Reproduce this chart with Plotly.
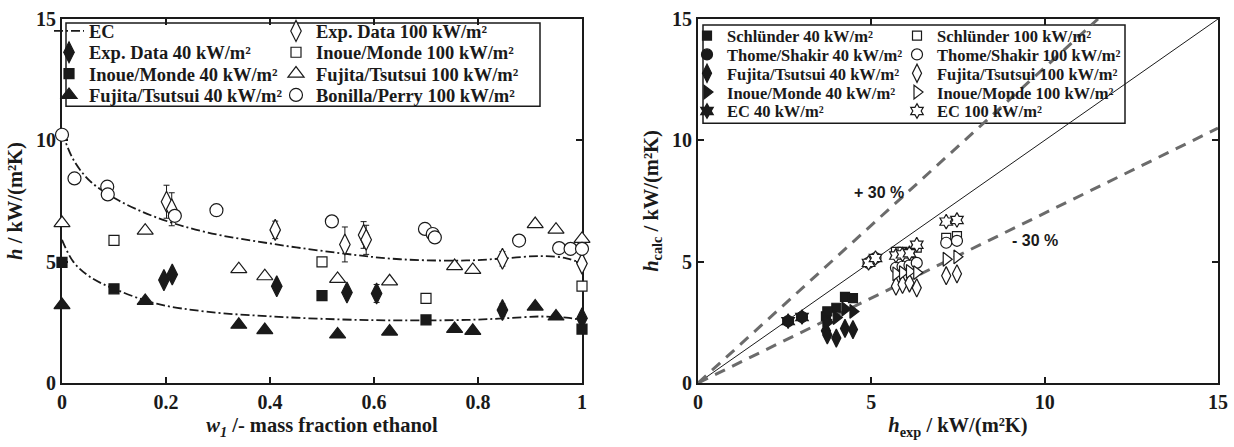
import plotly.graph_objects as go

# ---------------- left panel: h vs. mass fraction ethanol ----------------
ec_w = [0, 0.022, 0.054, 0.105, 0.182, 0.278, 0.406, 0.535, 0.65, 0.778, 0.847, 0.919, 0.97, 1.0]
ec_h100 = [10.35, 9.2, 8.32, 7.57, 6.82, 6.21, 5.73, 5.35, 5.1, 5.05, 5.13, 5.23, 5.14, 4.92]
ec_h40 = [5.9, 4.99, 4.37, 3.84, 3.27, 2.94, 2.74, 2.62, 2.58, 2.6, 2.66, 2.74, 2.69, 2.6]

exp40_w = [0.196, 0.212, 0.413, 0.548, 0.605, 0.847, 1.0]
exp40_h = [4.24, 4.47, 3.99, 3.73, 3.69, 3.01, 2.67]
exp40_err = [0.2, 0.15, 0.15, 0.12, 0.37, 0.25, 0.12]

exp100_w = [0.201, 0.211, 0.41, 0.544, 0.58, 0.585, 0.847, 1.0]
exp100_h = [7.47, 7.16, 6.31, 5.71, 6.1, 5.9, 5.12, 4.92]
exp100_err = [0.68, 0.68, 0.36, 0.72, 0.55, 0.6, 0.3, 0.1]

inoue40_w = [0, 0.1, 0.5, 0.7, 1.0]
inoue40_h = [4.97, 3.88, 3.6, 2.6, 2.22]
inoue100_w = [0.1, 0.5, 0.7, 1.0]
inoue100_h = [5.88, 4.99, 3.49, 3.99]

fujita40_w = [0, 0.16, 0.34, 0.39, 0.53, 0.63, 0.755, 0.79, 0.91, 0.95]
fujita40_h = [3.21, 3.38, 2.4, 2.18, 2.0, 2.12, 2.23, 2.15, 3.15, 2.74]
fujita100_w = [0, 0.16, 0.34, 0.39, 0.53, 0.63, 0.755, 0.79, 0.91, 0.95, 1.0]
fujita100_h = [6.59, 6.28, 4.69, 4.4, 4.29, 4.19, 4.82, 4.66, 6.55, 6.32, 5.94]

bonilla100_w = [0, 0.024, 0.087, 0.088, 0.217, 0.297, 0.519, 0.698, 0.713, 0.717, 0.879, 0.956, 0.978, 1.0]
bonilla100_h = [10.23, 8.43, 8.09, 7.77, 6.89, 7.12, 6.66, 6.35, 6.14, 6.0, 5.87, 5.56, 5.53, 5.53]

w_ticks = [0, 0.2, 0.4, 0.6, 0.8, 1]
w_tick_labels = ["0", "0.2", "0.4", "0.6", "0.8", "1"]
h_ticks = [0, 5, 10, 15]
h_tick_labels = ["0", "5", "10", "15"]

# ---------------- right panel: calculated vs. experimental h ----------------
schl40_exp = [3.69, 3.73, 3.99, 4.24, 4.47]
schl40_calc = [2.75, 2.95, 3.1, 3.55, 3.5]
schl100_exp = [5.71, 5.9, 6.1, 6.31, 7.16, 7.47]
schl100_calc = [5.4, 5.4, 5.35, 5.58, 5.98, 6.05]

thome40_exp = [2.6, 3.0]
thome40_calc = [2.55, 2.72]
thome100_exp = [4.92, 5.12, 5.71, 5.9, 6.1, 6.31, 7.16, 7.47]
thome100_calc = [4.95, 5.15, 4.75, 4.8, 4.85, 4.95, 5.78, 5.86]

fuj40_exp = [3.69, 3.73, 3.99, 4.24, 4.47]
fuj40_calc = [2.15, 1.98, 1.85, 2.25, 2.2]
fuj100_exp = [5.71, 5.9, 6.1, 6.31, 7.16, 7.47]
fuj100_calc = [3.99, 4.06, 4.12, 3.92, 4.42, 4.5]

ino40_exp = [3.69, 3.73, 3.99, 4.24, 4.47]
ino40_calc = [2.6, 2.5, 2.7, 3.05, 2.95]
ino100_exp = [5.71, 5.9, 6.1, 6.31, 7.16, 7.47]
ino100_calc = [4.5, 4.55, 4.6, 4.55, 5.1, 5.2]

ec40_exp = [2.6, 3.0]
ec40_calc = [2.55, 2.72]
ec100_exp = [4.92, 5.12, 5.71, 5.9, 6.1, 6.31, 7.16, 7.47]
ec100_calc = [4.95, 5.15, 5.25, 5.3, 5.35, 5.7, 6.65, 6.72]

parity_max = 15
deviation = 0.30

# ---------------- geometry helpers (pixel -> paper) ----------------
W, H = 1234, 447
ML, MR, MT, MB = 62, 16, 16, 64
PW, PH = W - ML - MR, H - MT - MB


def px(x):
    return (x - ML) / PW


def py(y):
    return (H - MB - y) / PH


def bold(labels):
    return [f"<b>{t}</b>" for t in labels]


SERIF = "Liberation Serif"
SANS = "Liberation Sans"
INK = "#1a1a1a"

fig = go.Figure()

legend_layout = {}
legend_count = [0]


def legend_slot(text_x, row_y, size):
    legend_count[0] += 1
    name = "legend" if legend_count[0] == 1 else f"legend{legend_count[0]}"
    legend_layout[name] = dict(
        x=px(text_x - 40), y=py(row_y), xanchor="left", yanchor="middle",
        bgcolor="rgba(0,0,0,0)", borderwidth=0,
        font=dict(family=SERIF, size=size, color=INK, weight=700),
        itemwidth=30,
    )
    return name


def marker(symbol, filled, size):
    return dict(symbol=symbol, size=size,
                color=INK if filled else "white",
                line=dict(color=INK, width=1.2))


LFS = 18.5
L_ROWS = [28.5, 50.0, 71.5, 93.0]
L_COL1, L_COL2 = 89, 316

EC_DASH = "9px,3px,2px,3px"

# EC model curves (left)
fig.add_trace(go.Scatter(x=ec_w, y=ec_h100, mode="lines", name="<b>EC</b>",
                         line=dict(color=INK, width=1.8, dash=EC_DASH, shape="spline"),
                         xaxis="x", yaxis="y", legend=legend_slot(L_COL1, L_ROWS[0], LFS)))
fig.add_trace(go.Scatter(x=ec_w, y=ec_h40, mode="lines", name="EC", showlegend=False,
                         line=dict(color=INK, width=1.8, dash=EC_DASH, shape="spline"),
                         xaxis="x", yaxis="y"))

left_series = [
    ("Exp. Data 40 kW/m²", exp40_w, exp40_h, exp40_err, "diamond-tall", True, 15, L_COL1, L_ROWS[1]),
    ("Inoue/Monde 40 kW/m²", inoue40_w, inoue40_h, None, "square", True, 10, L_COL1, L_ROWS[2]),
    ("Fujita/Tsutsui 40 kW/m²", fujita40_w, fujita40_h, None, "triangle-up", True, 14, L_COL1, L_ROWS[3]),
    ("Exp. Data 100 kW/m²", exp100_w, exp100_h, exp100_err, "diamond-tall", False, 15, L_COL2, L_ROWS[0]),
    ("Inoue/Monde 100 kW/m²", inoue100_w, inoue100_h, None, "square", False, 10, L_COL2, L_ROWS[1]),
    ("Fujita/Tsutsui 100 kW/m²", fujita100_w, fujita100_h, None, "triangle-up", False, 14, L_COL2, L_ROWS[2]),
    ("Bonilla/Perry 100 kW/m²", bonilla100_w, bonilla100_h, None, "circle", False, 13, L_COL2, L_ROWS[3]),
]
for name, xs, ys, err, sym, filled, size, tx, ty in left_series:
    kw = {}
    if err is not None:
        kw["error_y"] = dict(type="data", array=err, visible=True, color=INK, thickness=1, width=3)
    fig.add_trace(go.Scatter(x=xs, y=ys, mode="markers", name=f"<b>{name}</b>",
                             marker=marker(sym, filled, size), cliponaxis=False,
                             xaxis="x", yaxis="y", legend=legend_slot(tx, ty, LFS), **kw))

# ---------------- right panel traces ----------------
fig.add_trace(go.Scatter(x=[0, parity_max], y=[0, parity_max], mode="lines", showlegend=False,
                         line=dict(color=INK, width=1), xaxis="x2", yaxis="y2"))
fig.add_trace(go.Scatter(x=[0, parity_max / (1 + deviation)], y=[0, parity_max], mode="lines",
                         showlegend=False, line=dict(color="#6b6b6b", width=3, dash="11px,8px"),
                         xaxis="x2", yaxis="y2"))
fig.add_trace(go.Scatter(x=[0, parity_max], y=[0, parity_max * (1 - deviation)], mode="lines",
                         showlegend=False, line=dict(color="#6b6b6b", width=3, dash="11px,8px"),
                         xaxis="x2", yaxis="y2"))

RFS = 16.5
R_ROWS = [33.0, 52.0, 71.0, 90.0, 109.0]
R_COL1, R_COL2 = 727, 937

right_series = [
    ("Schlünder 40 kW/m²", schl40_exp, schl40_calc, "square", True, 9, R_COL1, R_ROWS[0]),
    ("Thome/Shakir 40 kW/m²", thome40_exp, thome40_calc, "circle", True, 11, R_COL1, R_ROWS[1]),
    ("Fujita/Tsutsui 40 kW/m²", fuj40_exp, fuj40_calc, "diamond-tall", True, 13, R_COL1, R_ROWS[2]),
    ("Inoue/Monde 40 kW/m²", ino40_exp, ino40_calc, "triangle-right", True, 12, R_COL1, R_ROWS[3]),
    ("EC 40 kW/m²", ec40_exp, ec40_calc, "hexagram", True, 11, R_COL1, R_ROWS[4]),
    ("Schlünder 100 kW/m²", schl100_exp, schl100_calc, "square", False, 9, R_COL2, R_ROWS[0]),
    ("Thome/Shakir 100 kW/m²", thome100_exp, thome100_calc, "circle", False, 11, R_COL2, R_ROWS[1]),
    ("Fujita/Tsutsui 100 kW/m²", fuj100_exp, fuj100_calc, "diamond-tall", False, 13, R_COL2, R_ROWS[2]),
    ("Inoue/Monde 100 kW/m²", ino100_exp, ino100_calc, "triangle-right", False, 12, R_COL2, R_ROWS[3]),
    ("EC 100 kW/m²", ec100_exp, ec100_calc, "hexagram", False, 11, R_COL2, R_ROWS[4]),
]
for name, xs, ys, sym, filled, size, tx, ty in right_series:
    fig.add_trace(go.Scatter(x=xs, y=ys, mode="markers", name=f"<b>{name}</b>",
                             marker=marker(sym, filled, size), cliponaxis=False,
                             xaxis="x2", yaxis="y2", legend=legend_slot(tx, ty, RFS)))

# ---------------- axes ----------------
tickfont = dict(family=SERIF, size=20, color=INK, weight=700)
titlefont = dict(family=SERIF, size=20.5, color=INK, weight=700)
axis_common = dict(showline=True, linecolor=INK, linewidth=2, mirror="ticks",
                   ticks="inside", ticklen=6, tickwidth=2, tickcolor=INK,
                   showgrid=False, zeroline=False, tickfont=tickfont,
                   automargin=False, layer="below traces")

left_dom = [0, 520 / PW]
right_dom = [(698 - ML) / PW, 1]

fig.update_layout(
    width=W, height=H, template="none",
    margin=dict(l=ML, r=MR, t=MT, b=MB),
    paper_bgcolor="white", plot_bgcolor="white",
    font=dict(family=SERIF, color=INK, weight=700),
    xaxis=dict(domain=left_dom, range=[0, 1], tickvals=w_ticks, ticktext=bold(w_tick_labels),
               anchor="y",
               title=dict(text="<b><i>w</i><sub><i>1</i></sub> /- mass fraction ethanol</b>",
                          font=titlefont, standoff=6),
               **axis_common),
    yaxis=dict(domain=[0, 1], range=[0, 15], tickvals=h_ticks, ticktext=bold(h_tick_labels),
               anchor="x",
               title=dict(text="<b><i>h</i> / kW/(m²K)</b>", font=titlefont, standoff=8),
               **axis_common),
    xaxis2=dict(domain=right_dom, range=[0, 15], tickvals=h_ticks, ticktext=bold(h_tick_labels),
                anchor="y2",
                title=dict(text="<b><i>h</i><sub>exp</sub> / kW/(m²K)</b>", font=titlefont, standoff=6),
                **axis_common),
    yaxis2=dict(domain=[0, 1], range=[0, 15], tickvals=h_ticks, ticktext=bold(h_tick_labels),
                anchor="x2",
                title=dict(text="<b><i>h</i><sub>calc</sub> / kW/(m²K)</b>", font=titlefont, standoff=8),
                **axis_common),
    showlegend=True,
    **legend_layout,
)

# legend frames
fig.add_shape(type="rect", xref="paper", yref="paper",
              x0=px(66), x1=px(540), y0=py(104), y1=py(20),
              line=dict(color=INK, width=1.5), fillcolor="rgba(0,0,0,0)", layer="below")
fig.add_shape(type="rect", xref="paper", yref="paper",
              x0=px(703), x1=px(1125), y0=py(121), y1=py(22),
              line=dict(color=INK, width=1.5), fillcolor="rgba(0,0,0,0)", layer="below")

# deviation band labels
fig.add_annotation(x=5.22, y=7.87, xref="x2", yref="y2", text="<b>+ 30 %</b>", showarrow=False,
                   font=dict(family=SANS, size=16, color=INK, weight=700))
fig.add_annotation(x=9.72, y=5.86, xref="x2", yref="y2", text="<b>- 30 %</b>", showarrow=False,
                   font=dict(family=SANS, size=16, color=INK, weight=700))

fig.write_html("out.html")
